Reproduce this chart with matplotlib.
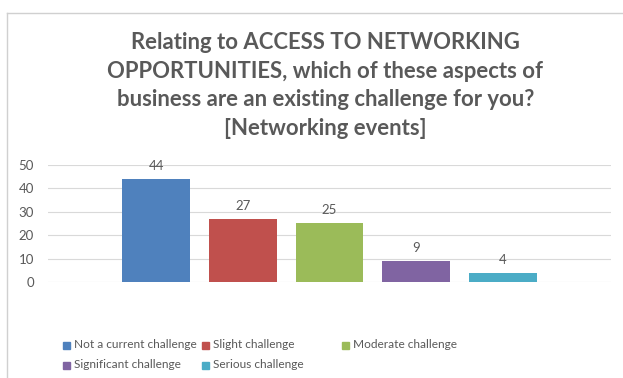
import matplotlib
matplotlib.use("Agg")
import matplotlib.pyplot as plt
from matplotlib.lines import Line2D
from matplotlib.patches import Rectangle

plt.rcParams["font.family"] = ["Lato", "DejaVu Sans"]

series = ["Not a current challenge", "Slight challenge", "Moderate challenge",
          "Significant challenge", "Serious challenge"]
counts = [44, 27, 25, 9, 4]
colors = ["#4F81BD", "#C0504D", "#9BBB59", "#8064A2", "#4BACC6"]
yticks = [0, 10, 20, 30, 40, 50]

title = ("Relating to ACCESS TO NETWORKING\n"
         "OPPORTUNITIES, which of these aspects of\n"
         "business are an existing challenge for you?\n"
         "[Networking events]")

grey = "#595959"

fig = plt.figure(figsize=(6.23, 3.78), dpi=100)
ax = fig.add_axes([0.077, 0.254, 0.904, 0.31])

# one bar per answer, side by side in a single group
xs = list(range(len(series)))
bars = ax.bar(xs, counts, width=0.78, color=colors, zorder=3)
for x, v in zip(xs, counts):
    ax.text(x, v + 3, str(v), ha="center", va="bottom", fontsize=9.5, color=grey)

ax.set_xlim(-1.25, len(series) - 1 + 1.25)
ax.set_ylim(0, 50)
ax.set_yticks(yticks)
ax.set_xticks([])
ax.yaxis.grid(True, color="#d9d9d9", linewidth=0.8, zorder=0)
ax.tick_params(axis="y", length=0, labelsize=9.5, labelcolor=grey, pad=10)
for s in ax.spines.values():
    s.set_visible(False)

fig.text(0.522, 0.915, title, ha="center", va="top", fontsize=15.9,
         fontweight="bold", color=grey, linespacing=1.45)

# legend laid out in equal-width columns, row by row
col_x = [63, 202, 342]
row_y = [345, 365]
W, H = 623, 378
for i, (name, c) in enumerate(zip(series, colors)):
    px = col_x[i % 3]
    py = row_y[i // 3]
    fig.add_artist(Rectangle(((px) / W, 1 - (py + 3.5) / H), 7 / W, 7 / H,
                             transform=fig.transFigure, color=c))
    fig.text((px + 11) / W, 1 - py / H, name, ha="left", va="center",
             fontsize=8.6, color=grey)

# chart area frame
fig.add_artist(Line2D([7 / W, 1], [1 - 13 / H] * 2, transform=fig.transFigure,
                      color="#d0d0d0", linewidth=1))
fig.add_artist(Line2D([7 / W] * 2, [0, 1 - 13 / H], transform=fig.transFigure,
                      color="#d0d0d0", linewidth=1))

fig.savefig("out.png", dpi=100)
